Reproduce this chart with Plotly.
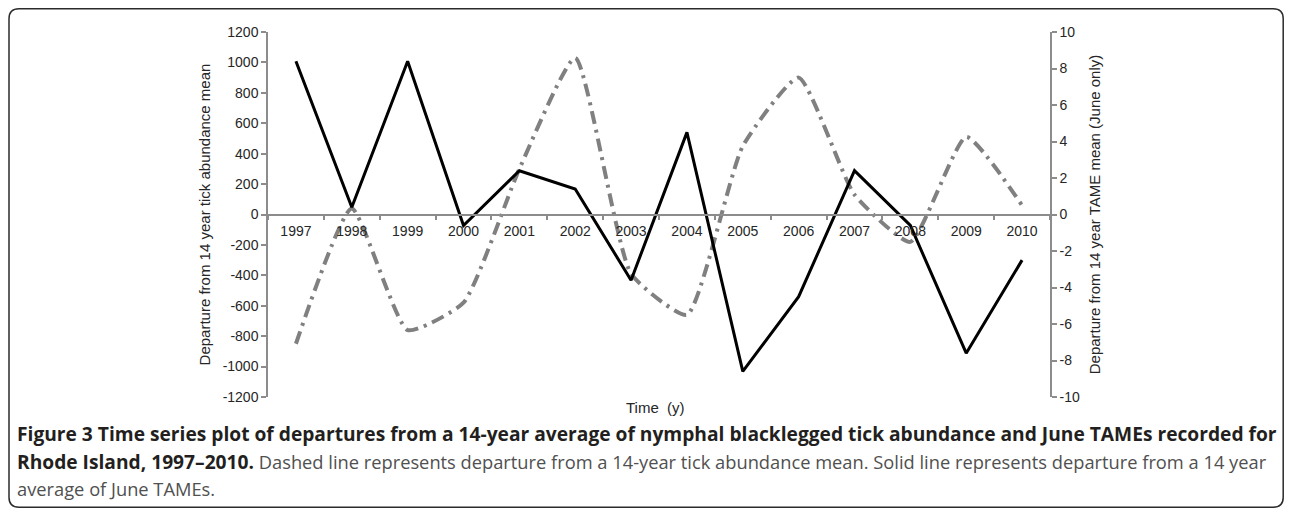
import plotly.graph_objects as go

years = ["1997", "1998", "1999", "2000", "2001", "2002", "2003", "2004",
         "2005", "2006", "2007", "2008", "2009", "2010"]
# Dashed: departure from 14-year tick abundance mean (left axis)
tick_departure = [-850, 40, -760, -580, 300, 1030, -390, -660,
                  450, 900, 130, -180, 510, 60]
# Solid: departure from 14-year June TAME mean (right axis)
tame_departure = [8.4, 0.4, 8.4, -0.6, 2.4, 1.4, -3.6, 4.5,
                  -8.6, -4.5, 2.4, -0.6, -7.6, -2.5]

left_ticks = list(range(-1200, 1201, 200))
left_labels = [str(v) for v in left_ticks]
right_ticks = list(range(-10, 11, 2))
right_labels = [str(v) for v in right_ticks]

# the page body adds an 8px margin on every side; figure coords = page coords - 8
OFF = 8
W, H = 1292 - 2 * OFF, 516 - 2 * OFF
L, R, T, B = 268 - OFF, 1050 - OFF, 32 - OFF, 397 - OFF


def px(x, y):
    """page pixel -> paper coords"""
    x -= OFF
    y -= OFF
    return (x - L) / (R - L), (B - y) / (B - T)


fig = go.Figure()
fig.add_trace(go.Scatter(
    x=years, y=tick_departure, mode="lines", yaxis="y",
    line=dict(color="#808080", width=4, dash="13px,6px,3px,6px",
              shape="spline", smoothing=0.5),
    showlegend=False, hoverinfo="skip"))
fig.add_trace(go.Scatter(
    x=years, y=tame_departure, mode="lines", yaxis="y2",
    line=dict(color="#000000", width=3),
    showlegend=False, hoverinfo="skip"))

axis_font = dict(family="Arial, Liberation Sans, sans-serif", size=14, color="#262626")
title_font = dict(family="Arial, Liberation Sans, sans-serif", size=15, color="#262626")

fig.update_layout(
    width=W, height=H,
    margin=dict(l=L, r=W - R, t=T, b=H - B),
    paper_bgcolor="white", plot_bgcolor="white",
    xaxis=dict(type="category", categoryorder="array", categoryarray=years,
               anchor="free", position=0.5, showline=True, linecolor="#8c8c8c",
               linewidth=1.5, ticks="outside", tickson="boundaries", ticklen=5,
               tickcolor="#8c8c8c", tickwidth=1.5, showgrid=False,
               tickfont=axis_font, ticklabelstandoff=4,
               title=dict(text=""), range=[-0.5, 13.5]),
    yaxis=dict(range=[-1200, 1200], tickvals=left_ticks, ticktext=left_labels,
               ticks="outside", ticklen=5, tickcolor="#8c8c8c", tickwidth=1.5,
               showline=True, linecolor="#8c8c8c", linewidth=1.5, showgrid=False,
               zeroline=False, tickfont=axis_font,
               title=dict(text="Departure from 14 year tick abundance mean",
                          font=title_font, standoff=8)),
    yaxis2=dict(range=[-10, 10], tickvals=right_ticks, ticktext=right_labels,
                overlaying="y", side="right",
                ticks="outside", ticklen=5, tickcolor="#8c8c8c", tickwidth=1.5,
                showline=True, linecolor="#8c8c8c", linewidth=1.5, showgrid=False,
                zeroline=False, tickfont=axis_font,
                title=dict(text="Departure from 14 year TAME mean (June only)",
                           font=title_font, standoff=11)),
)

# x-axis title
tx, ty = px(655, 407)
fig.add_annotation(x=tx, y=ty, xref="paper", yref="paper", text="Time  (y)",
                   showarrow=False, font=title_font, xanchor="center", yanchor="middle")

# caption
cap_font = dict(family="Open Sans, sans-serif", size=19.2, color="#231f20")
reg = "<span style='color:#505050;font-size:18.3px'>{}</span>"
captions = [
    ("<b>Figure 3 Time series plot of departures from a 14-year average of nymphal "
     "blacklegged tick abundance and June TAMEs recorded for</b>", 434),
    ("<b>Rhode Island, 1997–2010.</b>" + reg.format(
        " Dashed line represents departure from a 14-year tick abundance mean. "
        "Solid line represents departure from a 14 year"), 461),
    (reg.format("average of June TAMEs."), 488),
]
for text, yy in captions:
    cx, cy = px(15, yy)
    fig.add_annotation(x=cx, y=cy, xref="paper", yref="paper", text=text,
                       showarrow=False, font=cap_font, xanchor="left", yanchor="middle",
                       align="left")

# rounded frame (clamped to the drawable area)
x0, y0, x1, y1, r = 9, 8.8, 1283.2, 507.2, 10


def P(x, y):
    a, b = px(x, y)
    return f"{a:.5f},{b:.5f}"


path = (f"M {P(x0, y0 + r)} Q {P(x0, y0)} {P(x0 + r, y0)} L {P(x1 - r, y0)} "
        f"Q {P(x1, y0)} {P(x1, y0 + r)} L {P(x1, y1 - r)} Q {P(x1, y1)} {P(x1 - r, y1)} "
        f"L {P(x0 + r, y1)} Q {P(x0, y1)} {P(x0, y1 - r)} Z")
fig.add_shape(type="path", path=path, xref="paper", yref="paper",
              line=dict(color="#2b2b2b", width=1.5), layer="above")

fig.write_html("out.html")
